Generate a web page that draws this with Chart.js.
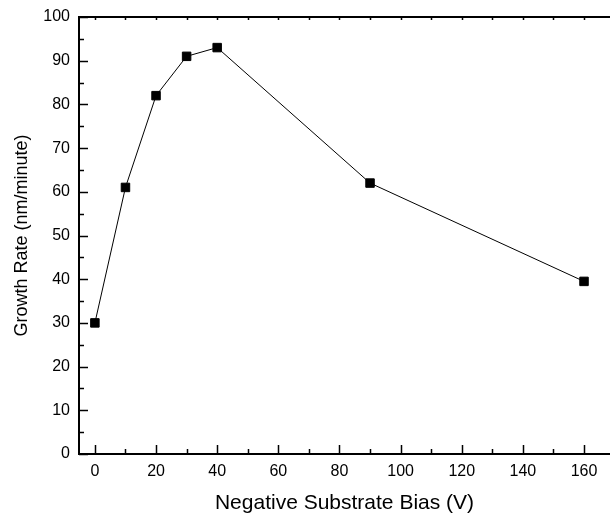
<!DOCTYPE html>
<html>
<head>
<meta charset="utf-8">
<script src="https://cdn.jsdelivr.net/npm/chart.js"></script>
<style>
  html, body { margin: 0; padding: 0; background: #fff; }
  #wrap { width: 610px; height: 518px; }
</style>
</head>
<body>
<div id="wrap"><canvas id="growthChart" width="610" height="518"></canvas></div>
<script>
// data
const biasVolts = [0, 10, 20, 30, 40, 90, 160];
const growthRate = [30, 61, 82, 91, 93, 62, 39.5];
const xTickValues = [0, 20, 40, 60, 80, 100, 120, 140, 160];
const yTickValues = [0, 10, 20, 30, 40, 50, 60, 70, 80, 90, 100];

const FONT = "'Liberation Sans', Arial, sans-serif";

// inward ticks like the original plot, plus the top frame line
const frameTicks = {
  id: 'frameTicks',
  afterDraw(chart) {
    const { ctx, chartArea } = chart;
    const xs = chart.scales.x, ys = chart.scales.y;
    ctx.save();
    ctx.strokeStyle = '#000';
    ctx.lineWidth = 2;
    // top line
    ctx.beginPath();
    ctx.moveTo(chartArea.left, chartArea.top);
    ctx.lineTo(chartArea.right, chartArea.top);
    ctx.stroke();

    ctx.lineWidth = 1.5;
    for (let v = 0; v <= xs.max; v += 10) {
      const px = Math.round(xs.getPixelForValue(v)) + 0.5;
      const len = v % 20 === 0 ? 9 : 5;
      ctx.beginPath();
      ctx.moveTo(px, chartArea.bottom);
      ctx.lineTo(px, chartArea.bottom - len);
      ctx.moveTo(px, chartArea.top);
      ctx.lineTo(px, chartArea.top + 3);
      ctx.stroke();
    }
    for (let v = 0; v <= 100; v += 5) {
      const py = Math.round(ys.getPixelForValue(v)) + 0.5;
      const len = v % 10 === 0 ? 9 : 5;
      ctx.beginPath();
      ctx.moveTo(chartArea.left, py);
      ctx.lineTo(chartArea.left + len, py);
      ctx.stroke();
    }
    ctx.restore();
  }
};

const ctx = document.getElementById('growthChart').getContext('2d');
new Chart(ctx, {
  type: 'scatter',
  data: {
    datasets: [{
      label: 'Growth rate',
      data: biasVolts.map((x, i) => ({ x: x, y: growthRate[i] })),
      showLine: true,
      borderColor: '#000',
      borderWidth: 1,
      backgroundColor: '#000',
      pointStyle: 'rect',
      pointRadius: 6,
      pointBorderWidth: 1,
      pointBorderColor: '#000',
      pointBackgroundColor: '#000'
    }]
  },
  options: {
    responsive: false,
    animation: false,
    layout: { autoPadding: false, padding: { top: 17, right: 0, left: 0, bottom: 0 } },
    plugins: {
      legend: { display: false },
      tooltip: { enabled: false }
    },
    scales: {
      x: {
        type: 'linear',
        min: -5.2,
        max: 168.5,
        afterBuildTicks: (scale) => { scale.ticks = xTickValues.map(v => ({ value: v })); },
        afterFit: (scale) => {
          scale.height = 64;
          scale.paddingLeft = 0;
          scale.paddingRight = 0;
        },
        grid: { display: false, drawTicks: false },
        border: { display: true, color: '#000', width: 2 },
        ticks: { color: '#000', padding: 8, maxRotation: 0, font: { family: FONT, size: 16 } },
        title: {
          display: true,
          text: 'Negative Substrate Bias (V)',
          color: '#000',
          font: { family: FONT, size: 21 },
          padding: { top: 0, bottom: 2 }
        }
      },
      y: {
        type: 'linear',
        min: 0,
        max: 100,
        afterBuildTicks: (scale) => { scale.ticks = yTickValues.map(v => ({ value: v })); },
        afterFit: (scale) => {
          scale.width = 79;
          scale.paddingTop = 0;
          scale.paddingBottom = 0;
        },
        grid: { display: false, drawTicks: false },
        border: { display: true, color: '#000', width: 2 },
        ticks: { color: '#000', padding: 9, font: { family: FONT, size: 16 } },
        title: {
          display: true,
          text: 'Growth Rate (nm/minute)',
          color: '#000',
          font: { family: FONT, size: 18 },
          padding: { top: 11, bottom: 0 }
        }
      }
    }
  },
  plugins: [frameTicks]
});
</script>
</body>
</html>
